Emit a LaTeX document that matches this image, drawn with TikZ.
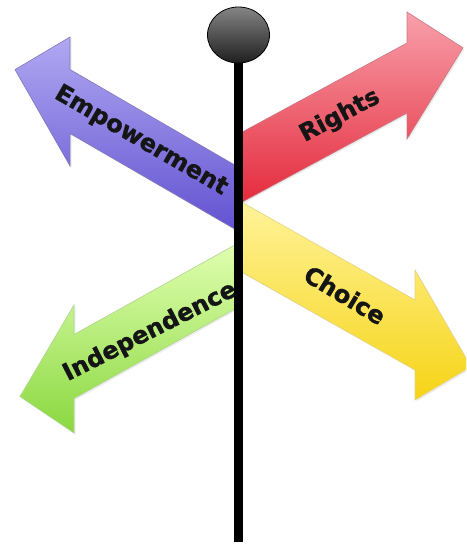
\documentclass[tikz,border=0pt]{standalone}
\usepackage{fontspec}
\newfontfamily\signfont{DejaVu Sans}[BoldFeatures={FakeBold=1.2}]
\usetikzlibrary{shadows}
\definecolor{purpleL}{HTML}{B0A8F2}
\definecolor{purpleD}{HTML}{6252D0}
\definecolor{purpleE}{HTML}{4A3E9A}
\definecolor{redL}{HTML}{F8A0AA}
\definecolor{redD}{HTML}{E42A3C}
\definecolor{redE}{HTML}{B04050}
\definecolor{yelL}{HTML}{FFF39A}
\definecolor{yelD}{HTML}{F6D416}
\definecolor{yelE}{HTML}{D8C050}
\definecolor{grnL}{HTML}{E0FFB0}
\definecolor{grnD}{HTML}{8AD840}
\definecolor{grnE}{HTML}{90C060}
\definecolor{inkc}{HTML}{151515}
\tikzset{
  signarrow/.style={line width=0.6pt, line join=miter,
    drop shadow={opacity=0.15, shadow xshift=1.5pt, shadow yshift=-1.5pt}},
  signtext/.style={font=\signfont\bfseries\fontsize{24}{28}\selectfont, text=inkc, inner sep=0pt}
}
\begin{document}
\begin{tikzpicture}[x=1pt,y=-1pt]
\useasboundingbox (0,0) rectangle (466,545);
\clip (0,0) rectangle (466,545);
% Empowerment (purple)
\path[signarrow, draw=purpleE!70, top color=purpleL, bottom color=purpleD]
  (238,166.9) -- (70,69.5) -- (70,37) -- (15,69.6) -- (70,166) -- (70,133.5) -- (238,230.9) -- cycle;
% Rights (red)
\path[signarrow, draw=redE!70, top color=redL, bottom color=redD]
  (238,134.3) -- (407,43) -- (407,12) -- (463,47.8) -- (407,139) -- (407,113) -- (238,204.3) -- cycle;
% Choice (yellow)
\path[signarrow, draw=yelE!70, top color=yelL, bottom color=yelD]
  (238,200) -- (415,300) -- (415,270) -- (471,366.6) -- (415,400) -- (415,370) -- (238,270) -- cycle;
% Independence (green)
\path[signarrow, draw=grnE!70, top color=grnL, bottom color=grnD]
  (238,243.2) -- (74,334.5) -- (74,305) -- (20,396.5) -- (74,433) -- (74,398.5) -- (238,307.2) -- cycle;
% labels
\node[signtext, rotate=-30] (emp) at (141,141) {Empowerment};
\node[signtext, rotate=28] (rig) at (340,116) {Rights};
\node[signtext, rotate=-31] (cho) at (345,295) {Choice};
\node[signtext, rotate=27] (ind) at (150,332) {Independence};
% pole
\fill[black] (234.2,50) rectangle (242.8,542);
% ball
\path[draw=black, line width=0.8pt, top color=black!48, middle color=black!30, bottom color=black!88]
  (238.5,35) ellipse [x radius=31, y radius=28];
\end{tikzpicture}
\end{document}
